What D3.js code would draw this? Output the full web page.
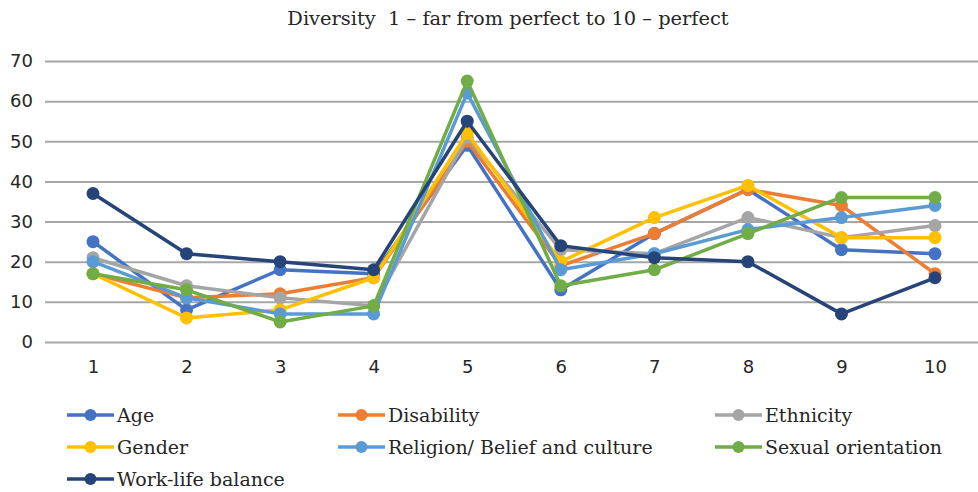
<!DOCTYPE html>
<html>
<head>
<meta charset="utf-8">
<script src="https://cdn.jsdelivr.net/npm/d3@7"></script>
<style>
  html, body { margin: 0; padding: 0; background: #fff; }
  svg { display: block; }
</style>
</head>
<body>
<svg id="chart" width="978" height="492"></svg>
<script>
// Ratings 1 (far from perfect) to 10 (perfect), count of responses per rating
const categories = [1, 2, 3, 4, 5, 6, 7, 8, 9, 10];
const yTicks = [0, 10, 20, 30, 40, 50, 60, 70];

const age         = [25, 8, 18, 17, 49, 13, 27, 38, 23, 22];
const disability  = [17, 11, 12, 16, 50, 19, 27, 38, 34, 17];
const ethnicity   = [21, 14, 11, 9, 51, 23, 22, 31, 26, 29];
const gender      = [17, 6, 8, 16, 52, 20, 31, 39, 26, 26];
const religion    = [20, 11, 7, 7, 62, 18, 22, 28, 31, 34];
const sexual      = [17, 13, 5, 9, 65, 14, 18, 27, 36, 36];
const workLife    = [37, 22, 20, 18, 55, 24, 21, 20, 7, 16];

const seriesNames = ["Age", "Disability", "Ethnicity", "Gender",
  "Religion/ Belief and culture", "Sexual orientation", "Work-life balance"];
const seriesValues = [age, disability, ethnicity, gender, religion, sexual, workLife];
const seriesColors = ["#4472C4", "#ED7D31", "#A5A5A5", "#FFC000", "#5B9BD5", "#70AD47", "#264478"];

const series = seriesNames.map((name, i) => ({ name, values: seriesValues[i], color: seriesColors[i] }));

const svg = d3.select("#chart");
const plot = { left: 45, right: 978, top: 61, bottom: 342 };
const serif = "DejaVu Serif, serif";

const x = d3.scalePoint().domain(categories).range([93, 935]);
const y = d3.scaleLinear().domain([0, 70]).range([plot.bottom, plot.top]);

// Title
svg.append("text")
  .attr("x", 508).attr("y", 25)
  .attr("text-anchor", "middle")
  .attr("font-family", serif)
  .attr("font-size", 19.4)
  .attr("fill", "#262626")
  .style("white-space", "pre")
  .text("Diversity  1 – far from perfect to 10 – perfect");

// Horizontal gridlines with value labels
const yAxis = d3.axisLeft(y).tickValues(yTicks).tickSize(-(plot.right - plot.left)).tickPadding(12);
const gy = svg.append("g").attr("transform", `translate(${plot.left},0)`).call(yAxis);
gy.select(".domain").remove();
gy.selectAll(".tick line").attr("stroke", "#a6a6a6").attr("stroke-width", 2);
gy.selectAll(".tick text")
  .attr("font-family", "DejaVu Sans, sans-serif")
  .attr("font-size", 18)
  .attr("fill", "#262626");

// Category labels
const xAxis = d3.axisBottom(x).tickSize(0).tickPadding(18);
const gx = svg.append("g").attr("transform", `translate(0,${plot.bottom})`).call(xAxis);
gx.select(".domain").remove();
gx.selectAll(".tick text")
  .attr("font-family", "DejaVu Sans, sans-serif")
  .attr("font-size", 18)
  .attr("fill", "#262626");

// Lines and markers
const line = d3.line().x((d, i) => x(categories[i])).y(d => y(d));
const g = svg.append("g");
series.forEach(s => {
  const sg = g.append("g");
  sg.append("path")
    .attr("d", line(s.values))
    .attr("fill", "none")
    .attr("stroke", s.color)
    .attr("stroke-width", 3.5)
    .attr("stroke-linejoin", "round");
  sg.selectAll("circle")
    .data(s.values)
    .join("circle")
    .attr("cx", (d, i) => x(categories[i]))
    .attr("cy", d => y(d))
    .attr("r", 6.5)
    .attr("fill", s.color);
});

// Legend: three columns, rows filled left to right
const colX = [67, 338, 715];
const rowY = [415, 447, 479];
const legend = svg.append("g");
series.forEach((s, i) => {
  const lx = colX[i % 3], ly = rowY[Math.floor(i / 3)];
  const item = legend.append("g").attr("transform", `translate(${lx},${ly})`);
  item.append("line").attr("x1", 0).attr("x2", 47).attr("y1", 0).attr("y2", 0)
    .attr("stroke", s.color).attr("stroke-width", 3.5);
  item.append("circle").attr("cx", 23.5).attr("cy", 0).attr("r", 6).attr("fill", s.color);
  item.append("text")
    .attr("x", 50).attr("y", 7)
    .attr("font-family", serif)
    .attr("font-size", 19)
    .attr("fill", "#262626")
    .text(s.name);
});
</script>
</body>
</html>
